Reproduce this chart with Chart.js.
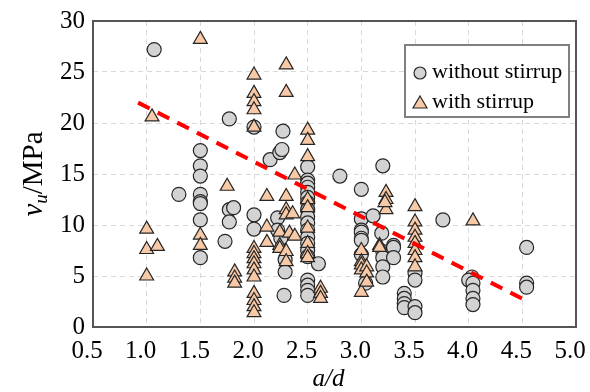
<!DOCTYPE html>
<html>
<head>
<meta charset="utf-8">
<script src="https://cdn.jsdelivr.net/npm/chart.js@4/dist/chart.umd.min.js"></script>
<style>
  html, body { margin: 0; padding: 0; background: #fff; }
  #wrap { width: 590px; height: 392px; }
</style>
</head>
<body>
<div id="wrap"><canvas id="myChart" width="590" height="392"></canvas></div>
<script>
// a/d and v_u (MPa)
var noStirrupX = [1.07, 1.3,
  1.5, 1.5, 1.5, 1.5, 1.5, 1.5, 1.5, 1.5,
  1.73, 1.77, 1.77, 1.77, 1.81,
  2.0, 2.0, 2.0, 2.15, 2.22, 2.22, 2.24, 2.26, 2.27, 2.25, 2.29, 2.29, 2.28,
  2.5, 2.5, 2.5, 2.5, 2.5, 2.5, 2.5, 2.5, 2.5, 2.5, 2.5, 2.5, 2.5, 2.5, 2.5, 2.5, 2.5, 2.5, 2.5,
  2.6, 2.8,
  3.0, 3.0, 3.0, 3.0, 3.0, 3.0, 3.0, 3.04, 3.11,
  3.2, 3.19, 3.2, 3.2, 3.2, 3.2, 3.3, 3.3, 3.3,
  3.4, 3.4, 3.4, 3.4, 3.5, 3.5, 3.5, 3.5,
  3.76,
  4.03, 4.0, 4.04, 4.04, 4.04, 4.04,
  4.54, 4.54, 4.54];
var noStirrupY = [27.2, 13.0,
  17.3, 15.8, 14.8, 13.0, 12.3, 12.1, 10.5, 6.8,
  8.4, 20.4, 11.5, 10.3, 11.7,
  19.6, 11.0, 9.6, 16.4, 10.7, 9.5, 17.1, 17.4, 19.2, 8.7, 6.6, 5.4, 3.1,
  15.7, 14.4, 14.1, 13.7, 13.2, 12.7, 12.2, 11.5, 10.8, 10.2, 9.5, 8.8, 8.2, 7.5, 6.9, 4.6, 4.1, 3.6, 3.1,
  6.2, 14.8,
  13.5, 10.6, 9.5, 9.3, 8.7, 8.5, 7.1, 4.3, 10.9,
  15.8, 9.2, 7.4, 6.8, 5.9, 4.9, 8.0, 7.8, 6.8,
  3.3, 2.8, 2.3, 1.9, 5.3, 4.6, 2.0, 1.4,
  10.5,
  4.9, 4.6, 4.3, 3.6, 2.8, 2.2,
  7.8, 4.3, 3.9];

var stirrupX = [1.0, 1.0, 1.0, 1.05, 1.1,
  1.5, 1.5, 1.5, 1.75, 1.82, 1.82, 1.82,
  2.0, 2.0, 2.0, 2.0, 2.0, 2.0, 2.0, 2.0, 2.0, 2.0, 2.0, 2.0, 2.0, 2.0, 2.0,
  2.12, 2.12, 2.12, 2.24, 2.24, 2.24,
  2.3, 2.3, 2.3, 2.3, 2.3, 2.3, 2.3, 2.33, 2.36, 2.38, 2.38,
  2.5, 2.5, 2.5, 2.5, 2.5, 2.5, 2.5, 2.5, 2.5,
  2.62, 2.62, 2.62,
  3.0, 3.0, 3.0, 3.0, 3.0, 3.05, 3.05, 3.05,
  3.17, 3.17, 3.23, 3.23, 3.23, 3.22,
  3.5, 3.5, 3.5, 3.5, 3.5, 3.5, 3.5, 3.5,
  4.04];
var stirrupY = [9.6, 7.6, 5.0, 20.6, 7.9,
  28.2, 9.0, 8.0, 13.8, 5.4, 4.8, 4.3,
  24.7, 22.9, 22.1, 21.3, 19.6, 7.7, 7.2, 6.7, 6.2, 5.6, 4.9, 3.3, 2.6, 2.0, 1.4,
  12.8, 9.8, 8.3, 9.3, 8.0, 7.7,
  25.7, 23.0, 12.8, 11.5, 11.0, 7.4, 6.4, 9.2, 11.1, 14.9, 8.9,
  19.3, 18.3, 16.7, 12.5, 11.7, 9.7, 8.2, 7.2, 6.8,
  3.8, 3.3, 2.8,
  7.5, 6.4, 6.1, 5.6, 3.4, 5.9, 5.3, 4.4,
  8.0, 7.8, 13.2, 12.5, 11.5, 12.2,
  11.8, 10.3, 9.5, 8.8, 8.2, 7.5, 6.8, 5.9,
  10.4];

// dashed trend line end points
var trendX = [0.92, 4.55];
var trendY = [22.0, 2.5];

var xTicks = [0.5, 1.0, 1.5, 2.0, 2.5, 3.0, 3.5, 4.0, 4.5, 5.0];
var yTicks = [0, 5, 10, 15, 20, 25, 30];
var seriesNames = ["without stirrup", "with stirrup"];

function pairs(xs, ys) {
  return xs.map(function(x, i) { return { x: x, y: ys[i] }; });
}

var serif = "'Liberation Serif', 'Times New Roman', serif";
var circleFill = "#d3d3d3", triFill = "#f8c9a6", edge = "#262626";

// frame, axis titles and the boxed legend
var extras = {
  id: "extras",
  afterDraw: function(chart) {
    var ctx = chart.ctx, a = chart.chartArea;
    ctx.save();
    ctx.strokeStyle = "#555";
    ctx.lineWidth = 2;
    ctx.strokeRect(a.left, a.top, a.right - a.left, a.bottom - a.top);

    ctx.fillStyle = "#000";
    ctx.textBaseline = "middle";
    ctx.textAlign = "center";
    ctx.font = "italic 25px " + serif;
    ctx.fillText("a/d", (a.left + a.right) / 2 - 6, 379);

    // y title: v_u/MPa, rotated
    ctx.translate(34, (a.top + a.bottom) / 2);
    ctx.rotate(-Math.PI / 2);
    ctx.textAlign = "left";
    ctx.font = "italic 29px " + serif;
    var w1 = ctx.measureText("v").width;
    ctx.font = "italic 19px " + serif;
    var w2 = ctx.measureText("u").width;
    ctx.font = "29px " + serif;
    var w3 = ctx.measureText("/MPa").width;
    var x0 = -(w1 + w2 + w3) / 2;
    ctx.font = "italic 29px " + serif;
    ctx.fillText("v", x0, 0);
    ctx.font = "italic 19px " + serif;
    ctx.fillText("u", x0 + w1, 8);
    ctx.font = "29px " + serif;
    ctx.fillText("/MPa", x0 + w1 + w2, 0);
    ctx.restore();

    // legend
    ctx.save();
    ctx.fillStyle = "#fff";
    ctx.fillRect(405, 45, 164, 72);
    ctx.strokeStyle = "#808080";
    ctx.lineWidth = 2;
    ctx.strokeRect(405, 45, 164, 72);
    ctx.lineWidth = 1.2;
    ctx.strokeStyle = edge;
    ctx.fillStyle = circleFill;
    ctx.beginPath();
    ctx.arc(420, 73, 6, 0, Math.PI * 2);
    ctx.fill();
    ctx.stroke();
    ctx.fillStyle = triFill;
    ctx.beginPath();
    ctx.moveTo(420, 96);
    ctx.lineTo(427, 108);
    ctx.lineTo(413, 108);
    ctx.closePath();
    ctx.fill();
    ctx.stroke();
    ctx.fillStyle = "#000";
    ctx.font = "22px " + serif;
    ctx.textAlign = "left";
    ctx.textBaseline = "middle";
    ctx.fillText(seriesNames[0], 432, 72);
    ctx.fillText(seriesNames[1], 432, 102);
    ctx.restore();
  }
};

var ctx = document.getElementById("myChart").getContext("2d");
var myChart = new Chart(ctx, {
  type: "scatter",
  data: {
    datasets: [{
      label: "trend",
      type: "line",
      data: pairs(trendX, trendY),
      borderColor: "#ff0000",
      borderWidth: 4,
      borderDash: [13, 9],
      pointRadius: 0,
      fill: false,
      order: 0
    }, {
      label: seriesNames[1],
      data: pairs(stirrupX, stirrupY),
      pointStyle: "triangle",
      pointRadius: 8,
      backgroundColor: triFill,
      borderColor: edge,
      borderWidth: 1.2,
      order: 1
    }, {
      label: seriesNames[0],
      data: pairs(noStirrupX, noStirrupY),
      pointStyle: "circle",
      pointRadius: 7,
      backgroundColor: circleFill,
      borderColor: edge,
      borderWidth: 1.2,
      order: 2
    }]
  },
  options: {
    responsive: false,
    animation: false,
    layout: { padding: { top: 21, right: 14, left: 0, bottom: 0 } },
    plugins: { legend: { display: false }, tooltip: { enabled: false } },
    scales: {
      x: {
        type: "linear",
        min: xTicks[0],
        max: xTicks[xTicks.length - 1],
        afterBuildTicks: function(s) { s.ticks = xTicks.map(function(v) { return { value: v }; }); },
        afterFit: function(s) { s.height = 65; s.paddingLeft = 0; s.paddingRight = 0; },
        ticks: {
          color: "#000",
          font: { family: serif, size: 25 },
          padding: 9,
          labelOffset: -6,
          maxRotation: 0,
          callback: function(v) { return Number(v).toFixed(1); }
        },
        grid: { color: "#d9d9d9", lineWidth: 1, drawTicks: false },
        border: { display: false, dash: [5, 4] }
      },
      y: {
        min: yTicks[0],
        max: yTicks[yTicks.length - 1],
        afterBuildTicks: function(s) { s.ticks = yTicks.map(function(v) { return { value: v }; }); },
        afterFit: function(s) { s.width = 93; s.paddingTop = 0; s.paddingBottom = 0; },
        ticks: {
          color: "#000",
          font: { family: serif, size: 25 },
          padding: 8
        },
        grid: { color: "#d9d9d9", lineWidth: 1, drawTicks: false },
        border: { display: false, dash: [5, 4] }
      }
    }
  },
  plugins: [extras]
});
</script>
</body>
</html>
